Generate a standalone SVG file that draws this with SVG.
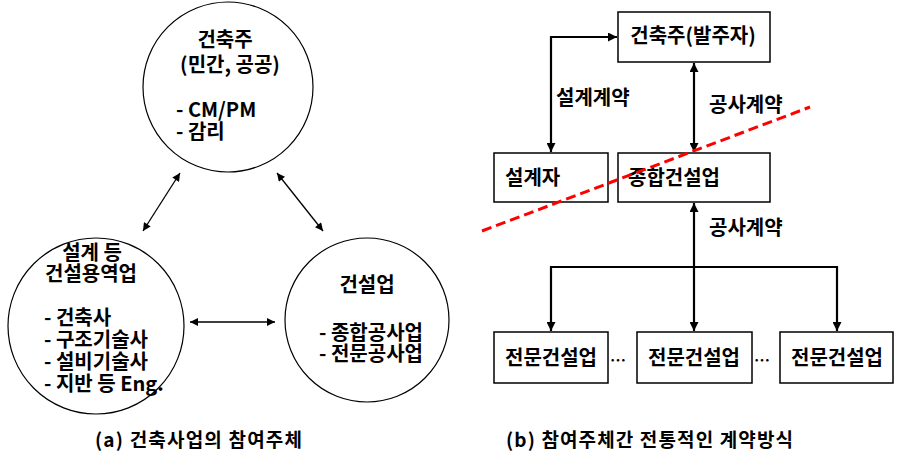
<svg xmlns="http://www.w3.org/2000/svg" width="908" height="456" viewBox="0 0 908 456">
<defs>
<style>
text{font-family:"Noto Sans CJK KR","Malgun Gothic","Noto Sans",sans-serif;font-weight:bold;fill:#000;font-size:20px}
.c{fill:#fff;stroke:#000;stroke-width:1.2}
.b{fill:#fff;stroke:#000;stroke-width:1.5}
.m{text-anchor:middle}
.thin{fill:none;stroke:#000;stroke-width:1.3}
.thick{fill:none;stroke:#000;stroke-width:2.2}
.cap{font-size:19px}
</style>
<marker id="as" viewBox="0 0 10 10" refX="10" refY="5" markerWidth="9" markerHeight="8" markerUnits="userSpaceOnUse" orient="auto-start-reverse"><path d="M0,0 L10,5 L0,10 z" fill="#000"/></marker>
<marker id="al" viewBox="0 0 10 10" refX="10" refY="5" markerWidth="10" markerHeight="9" markerUnits="userSpaceOnUse" orient="auto-start-reverse"><path d="M0,0 L10,5 L0,10 z" fill="#000"/></marker>
</defs>
<rect width="908" height="456" fill="#fff"/>

<g id="owner-circle">
<circle class="c" cx="228" cy="87" r="85"/>
<text class="m" x="225" y="47">건축주</text>
<text class="m" x="230" y="72">(민간, 공공)</text>
<text x="176" y="117">- CM/PM</text>
<text x="176" y="139">- 감리</text>
</g>

<g id="design-circle">
<circle class="c" cx="96" cy="326" r="88"/>
<text class="m" x="92" y="260">설계 등</text>
<text class="m" x="91" y="281">건설용역업</text>
<text x="44" y="325">- 건축사</text>
<text x="44" y="347">- 구조기술사</text>
<text x="44" y="369">- 설비기술사</text>
<text x="44" y="391">- 지반 등 Eng.</text>
</g>

<g id="construction-circle">
<circle class="c" cx="367" cy="320" r="82"/>
<text class="m" x="367" y="292">건설업</text>
<text x="319" y="340">- 종합공사업</text>
<text x="319" y="361">- 전문공사업</text>
</g>

<g id="client-box">
<rect class="b" x="618" y="12" width="152" height="50"/>
<text class="m" x="693" y="43">건축주(발주자)</text>
</g>
<g id="designer-box">
<rect class="b" x="494" y="153" width="114" height="49"/>
<text x="505" y="185">설계자</text>
</g>
<g id="gc-box">
<rect class="b" x="618" y="153" width="152" height="49"/>
<text x="628" y="185">종합건설업</text>
</g>
<g id="sc-box-1">
<rect class="b" x="494" y="332" width="114" height="51"/>
<text class="m" x="551" y="365">전문건설업</text>
</g>
<g id="sc-box-2">
<rect class="b" x="637" y="332" width="115" height="51"/>
<text class="m" x="694" y="365">전문건설업</text>
</g>
<g id="sc-box-3">
<rect class="b" x="780" y="332" width="113" height="51"/>
<text class="m" x="837" y="365">전문건설업</text>
</g>

<g id="connectors">
<line class="thin" x1="180" y1="173" x2="143" y2="231" marker-start="url(#as)" marker-end="url(#as)"/>
<line class="thin" x1="277" y1="173" x2="323" y2="231" marker-start="url(#as)" marker-end="url(#as)"/>
<line class="thin" x1="190" y1="322" x2="275" y2="322" marker-start="url(#as)" marker-end="url(#as)"/>

<polyline class="thick" points="551,152 551,37 617,37" marker-start="url(#al)" marker-end="url(#al)"/>
<line class="thick" x1="694" y1="63" x2="694" y2="152" marker-start="url(#al)" marker-end="url(#al)"/>
<line class="thick" x1="694" y1="203" x2="694" y2="331" marker-start="url(#al)" marker-end="url(#al)"/>
<polyline class="thick" points="551,331 551,267 837,267 837,331" marker-start="url(#al)" marker-end="url(#al)"/>
<line x1="482" y1="231" x2="810" y2="107" stroke="#ff0000" stroke-width="3" stroke-dasharray="10,5"/>
</g>

<g id="labels">
<text x="556" y="105">설계계약</text>
<text x="709" y="112">공사계약</text>
<text x="709" y="235">공사계약</text>
<text class="m" x="618" y="366" style="font-size:16px">…</text>
<text class="m" x="762" y="366" style="font-size:16px">…</text>
<text class="cap" x="95" y="447" textLength="207" lengthAdjust="spacing">(a) 건축사업의 참여주체</text>
<text class="cap" x="506" y="447" textLength="287" lengthAdjust="spacing">(b) 참여주체간 전통적인 계약방식</text>
</g>
</svg>
